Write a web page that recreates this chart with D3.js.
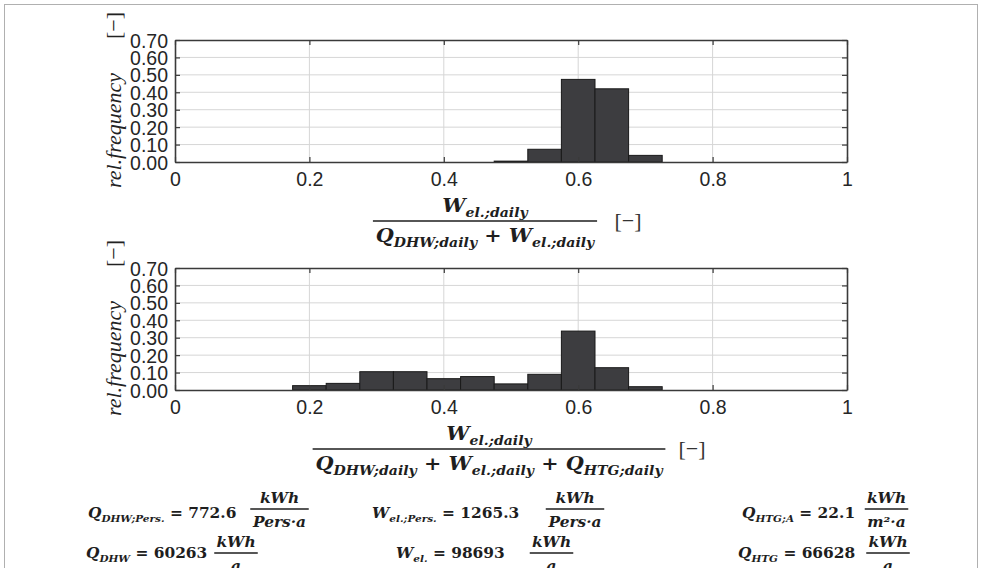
<!DOCTYPE html>
<html><head><meta charset="utf-8">
<script src="https://cdn.jsdelivr.net/npm/d3@7/dist/d3.min.js"></script>
<style>
html,body{margin:0;padding:0;background:#fff;}
svg{display:block;}
</style></head>
<body>
<svg id="chart" width="982" height="568"></svg>
<script>
// ---------------- data ----------------
const binWidth = 0.05;
const binCentersTop = [0.50, 0.55, 0.60, 0.65, 0.70];
const freqTop       = [0.005, 0.073, 0.474, 0.420, 0.038];
const binCentersBottom = [0.20, 0.25, 0.30, 0.35, 0.40, 0.45, 0.50, 0.55, 0.60, 0.65, 0.70];
const freqBottom       = [0.025, 0.038, 0.105, 0.105, 0.065, 0.077, 0.035, 0.090, 0.338, 0.128, 0.019];
const xTicks = [0, 0.2, 0.4, 0.6, 0.8, 1];
const xTickLabels = ["0", "0.2", "0.4", "0.6", "0.8", "1"];
const yTicks = [0, 0.1, 0.2, 0.3, 0.4, 0.5, 0.6, 0.7];
const yTickLabels = ["0.00","0.10","0.20","0.30","0.40","0.50","0.60","0.70"];

// ---------------- layout ----------------
const svg = d3.select("#chart");
const W = 982, H = 568;
const plotLeft = 175, plotRight = 847, plotH = 122;
const panels = [
  {top: 40,  centers: binCentersTop,    freq: freqTop},
  {top: 268, centers: binCentersBottom, freq: freqBottom}
];
const MATH = "'DejaVu Serif', serif";
const SANS = "'Liberation Sans', Arial, sans-serif";

svg.append("rect").attr("x",4.5).attr("y",4.5).attr("width",W-9).attr("height",H)
   .attr("fill","none").attr("stroke","#b0b0b0").attr("stroke-width",1);

const x = d3.scaleLinear().domain([0,1]).range([plotLeft, plotRight]);

panels.forEach(p => {
  const y = d3.scaleLinear().domain([0,0.7]).range([p.top+plotH, p.top]);
  const g = svg.append("g");
  g.append("g").selectAll("line").data(yTicks.slice(1,-1)).join("line")
    .attr("x1",plotLeft).attr("x2",plotRight).attr("y1",d=>y(d)).attr("y2",d=>y(d))
    .attr("stroke","#d6d6d6").attr("stroke-width",1);
  g.append("g").selectAll("line").data(xTicks.slice(1,-1)).join("line")
    .attr("y1",p.top).attr("y2",p.top+plotH).attr("x1",d=>x(d)).attr("x2",d=>x(d))
    .attr("stroke","#d6d6d6").attr("stroke-width",1);
  g.append("g").selectAll("rect").data(p.centers.map((c,i)=>({c, v:p.freq[i]}))).join("rect")
    .attr("x",d=>x(d.c-binWidth/2)).attr("width",d=>x(d.c+binWidth/2)-x(d.c-binWidth/2))
    .attr("y",d=>y(d.v)).attr("height",d=>y(0)-y(d.v))
    .attr("fill","#3d3d40").attr("stroke","#1a1a1a").attr("stroke-width",1);
  const fs = 19.5;
  const axL = d3.axisLeft(y).tickValues(yTicks).tickFormat((d,i)=>yTickLabels[i]).tickSizeInner(-5).tickSizeOuter(0).tickPadding(7);
  const axR = d3.axisRight(y).tickValues(yTicks).tickFormat("").tickSizeInner(-5).tickSizeOuter(0);
  const axB = d3.axisBottom(x).tickValues(xTicks).tickFormat((d,i)=>xTickLabels[i]).tickSizeInner(-5).tickSizeOuter(0).tickPadding(10);
  const axT = d3.axisTop(x).tickValues(xTicks).tickFormat("").tickSizeInner(-5).tickSizeOuter(0);
  const gl = g.append("g").attr("transform",`translate(${plotLeft},0)`).call(axL);
  const gr = g.append("g").attr("transform",`translate(${plotRight},0)`).call(axR);
  const gb = g.append("g").attr("transform",`translate(0,${p.top+plotH})`).call(axB);
  const gt = g.append("g").attr("transform",`translate(0,${p.top})`).call(axT);
  [gl,gr,gb,gt].forEach(a=>{
    a.selectAll(".domain").attr("stroke","#3a3a3a").attr("stroke-width",1.6);
    a.selectAll(".tick line").attr("stroke","#3a3a3a").attr("stroke-width",1.2);
    a.selectAll("text").attr("font-family",SANS).attr("font-size",fs).attr("fill","#262626");
  });
  gl.selectAll("text").attr("dy","0.36em");
  const yl = svg.append("text")
    .attr("transform",`translate(121,${p.top+plotH+26}) rotate(-90)`)
    .attr("font-size",22).attr("fill","#222");
  yl.append("tspan").attr("font-family","'Liberation Serif', serif").attr("font-style","italic").text("rel.frequency");
  yl.append("tspan").attr("font-family","'Liberation Serif', serif").attr("dx",34).text("[\u2212]");
});

// ---------------- math helpers ----------------
function mathText(parent, px, py, segs, size, anchor) {
  const t = parent.append("text").attr("x",px).attr("y",py)
    .attr("font-family",MATH).attr("font-weight","bold").attr("font-size",size)
    .attr("fill","#1e1e1e").attr("text-anchor",anchor||"start");
  let shifted = false;
  const sh = size*0.28;
  segs.forEach(([s,type])=>{
    const ts = t.append("tspan").text(s);
    if (type==="s") {
      ts.attr("font-size",size*0.68).attr("font-style","italic");
      if(!shifted){ ts.attr("dy",sh); shifted=true; }
    } else {
      if(shifted){ ts.attr("dy",-sh); shifted=false; }
      if (type==="i") ts.attr("font-style","italic");
    }
  });
  return t;
}
function fraction(parent, cx, lineY, num, den, size, gapN, gapD) {
  const n = mathText(parent, cx, lineY-gapN, num, size, "middle");
  const d = mathText(parent, cx, lineY+gapD, den, size, "middle");
  const w = Math.max(n.node().getBBox().width, d.node().getBBox().width) + 4;
  parent.append("line").attr("x1",cx-w/2).attr("x2",cx+w/2).attr("y1",lineY).attr("y2",lineY)
    .attr("stroke","#1e1e1e").attr("stroke-width",1.3);
  return w;
}

// axis-label fractions
const numSeg = [["W","i"],["el.;daily","s"]];
const den1 = [["Q","i"],["DHW;daily","s"],[" + ","n"],["W","i"],["el.;daily","s"]];
const den2 = [["Q","i"],["DHW;daily","s"],[" + ","n"],["W","i"],["el.;daily","s"],[" + ","n"],["Q","i"],["HTG;daily","s"]];
const labSize = 19, labSx = 1.09;
[[den1, 221, 485, 628], [den2, 449, 489, 692]].forEach(([den, ly, cx, bx])=>{
  const g = svg.append("g").attr("transform",`translate(${cx},${ly}) scale(${labSx},1)`);
  fraction(g, 0, 0, numSeg, den, labSize, 9, 21);
  svg.append("text").attr("x",bx).attr("y",ly+7).attr("text-anchor","middle")
    .attr("font-family","'Liberation Serif', serif").attr("font-size",22).attr("fill","#333").text("[\u2212]");
});

// summary formulas
const fsz = 14, fSx = 1.1;
const formulas = [
  {x:88,  fx:279.5, y:518, ly:-9, lhs:[["Q","i"],["DHW;Pers.","s"],[" = 772.6","n"]], num:[["kWh","i"]], den:[["Pers\u00B7a","i"]]},
  {x:372, fx:575,   y:518, ly:-9, lhs:[["W","i"],["el.;Pers.","s"],[" = 1265.3","n"]], num:[["kWh","i"]], den:[["Pers\u00B7a","i"]]},
  {x:742, fx:886.5, y:518, ly:-9, lhs:[["Q","i"],["HTG;A","s"],[" = 22.1","n"]], num:[["kWh","i"]], den:[["m\u00B2\u00B7a","i"]]},
  {x:86,  fx:236,   y:558, ly:-5, lhs:[["Q","i"],["DHW","s"],[" = 60263","n"]], num:[["kWh","i"]], den:[["a","i"]]},
  {x:396, fx:551.5, y:558, ly:-5, lhs:[["W","i"],["el.","s"],[" = 98693","n"]], num:[["kWh","i"]], den:[["a","i"]]},
  {x:738, fx:888,   y:558, ly:-5, lhs:[["Q","i"],["HTG","s"],[" = 66628","n"]], num:[["kWh","i"]], den:[["a","i"]]}
];
formulas.forEach(r=>{
  const gl = svg.append("g").attr("transform",`translate(${r.x},${r.y}) scale(${fSx},1)`);
  mathText(gl, 0, 0, r.lhs, fsz, "start");
  const gf = svg.append("g").attr("transform",`translate(${r.fx},${r.y}) scale(${fSx},1)`);
  fraction(gf, 0, r.ly, r.num, r.den, fsz, 6, 18);
});
</script>
</body></html>
